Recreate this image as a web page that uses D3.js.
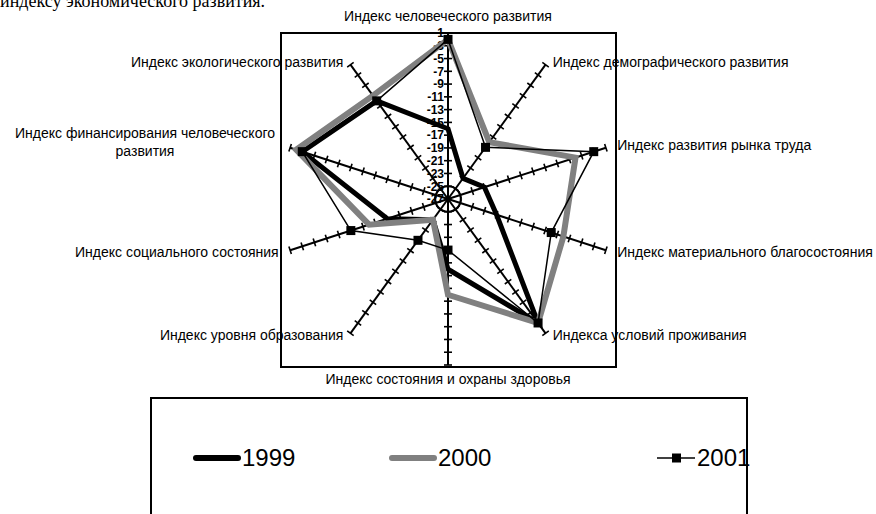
<!DOCTYPE html>
<meta charset="utf-8">
<script src="https://d3js.org/d3.v7.min.js"></script>
<style>
  body { margin: 0; background: #fff; }
  text { font-family: "Liberation Sans", Arial, sans-serif; }
</style>
<body>
<script>

// chart data (values are negative ranks, -27 = worst, -1 = best)
var categories = [
    "Индекс человеческого развития",
    "Индекс демографического развития",
    "Индекс развития рынка труда",
    "Индекс материального благосостояния",
    "Индекса условий проживания",
    "Индекс состояния и охраны здоровья",
    "Индекс уровня образования",
    "Индекс социального состояния",
    "Индекс финансирования человеческого\nразвития",
    "Индекс  экологического развития"
];
var years = ["1999", "2000", "2001"];
var values1999 = [-16, -23, -21, -19, -3, -16, -23, -17, -3, -8];
var values2000 = [-2, -16, -6, -8, -3, -12, -23, -14, -2, -7];
var values2001 = [-2, -17, -3, -10, -3, -19, -19, -11, -3, -8];
var tickValues = [-27, -25, -23, -21, -19, -17, -15, -13, -11, -9, -7, -5, -3, -1];

var width = 876,
    height = 514;

var cx = 448, cy = 199, R = 166;

var svg = d3.select("body").append("svg")
    .attr("width", width)
    .attr("height", height);

// clipped line of the document text above the chart
svg.append("text")
    .attr("x", 0)
    .attr("y", 7)
    .style("font-family", "'Liberation Serif', 'Times New Roman', serif")
    .style("font-size", "18px")
    .text("индексу экономического развития.");

var r = d3.scaleLinear().domain([-27, -1]).range([0, R]);
var angle = d3.scaleLinear().domain([0, categories.length]).range([0, 2 * Math.PI]);

function px(i, v) { return cx + r(v) * Math.sin(angle(i)); }
function py(i, v) { return cy - r(v) * Math.cos(angle(i)); }

// plot area border
svg.append("rect")
    .attr("x", 281)
    .attr("y", 33)
    .attr("width", 335)
    .attr("height", 334)
    .style("fill", "none")
    .style("stroke", "#000")
    .style("stroke-width", 2);

var axes = svg.append("g").attr("class", "axes");

// spokes
axes.selectAll("line.spoke")
    .data(categories)
    .enter().append("line")
    .attr("class", "spoke")
    .attr("x1", cx).attr("y1", cy)
    .attr("x2", function(d, i) { return px(i, -1); })
    .attr("y2", function(d, i) { return py(i, -1); })
    .style("stroke", "#000")
    .style("stroke-width", 2);

// tick marks crossing every spoke
var tickData = [];
categories.forEach(function(c, i) {
    tickValues.slice(1).forEach(function(t) { tickData.push({ i: i, v: t }); });
});
axes.selectAll("line.tick")
    .data(tickData)
    .enter().append("line")
    .attr("class", "tick")
    .each(function(d) {
        var a = angle(d.i), x = px(d.i, d.v), y = py(d.i, d.v);
        var ox = 4 * Math.cos(a), oy = 4 * Math.sin(a);
        d3.select(this)
            .attr("x1", x - ox).attr("y1", y - oy)
            .attr("x2", x + ox).attr("y2", y + oy);
    })
    .style("stroke", "#000")
    .style("stroke-width", 1.6);

axes.append("circle")
    .attr("cx", cx).attr("cy", cy)
    .attr("r", r(-25))
    .style("fill", "none")
    .style("stroke", "#000")
    .style("stroke-width", 2);

// value labels on the top spoke
axes.selectAll("text.val")
    .data(tickValues)
    .enter().append("text")
    .attr("class", "val")
    .attr("x", cx - 4)
    .attr("y", function(d) { return cy - r(d); })
    .attr("dy", "0.36em")
    .attr("text-anchor", "end")
    .style("font-size", "12px")
    .style("font-weight", "bold")
    .text(function(d) { return d; });

// category labels
var labels = svg.append("g").attr("class", "labels")
    .selectAll("text")
    .data(categories)
    .enter().append("text")
    .style("font-size", "14px")
    .each(function(d, i) {
        var a = angle(i), s = Math.sin(a);
        var x, y, anchor;
        if (Math.abs(s) < 0.01) {
            x = cx;
            y = Math.cos(a) > 0 ? cy - R - 17 : cy + R + 14;
            anchor = "middle";
        } else {
            x = cx + (R + 12) * s;
            y = py(i, -1) + (Math.cos(a) > 0 ? -3 : 2);
            anchor = s > 0 ? "start" : "end";
        }
        var lines = d.split("\n");
        var t = d3.select(this)
            .attr("text-anchor", lines.length > 1 ? "middle" : anchor);
        if (lines.length > 1) {
            t.selectAll("tspan")
                .data(lines)
                .enter().append("tspan")
                .attr("x", 145)
                .attr("y", function(l, k) { return y - 12 + k * 18; })
                .attr("dy", "0.35em")
                .text(function(l) { return l; });
        } else {
            t.attr("x", x).attr("y", y).attr("dy", "0.35em").text(d);
        }
    });

// series
var radial = d3.lineRadial()
    .angle(function(d, i) { return angle(i); })
    .radius(function(d) { return r(d); })
    .curve(d3.curveLinearClosed);

var series = [
    { name: years[0], values: values1999, color: "#000", width: 5 },
    { name: years[1], values: values2000, color: "#808080", width: 6 },
    { name: years[2], values: values2001, color: "#000", width: 1.5 }
];

var plot = svg.append("g").attr("transform", "translate(" + cx + "," + cy + ")");

plot.selectAll("path.series")
    .data(series)
    .enter().append("path")
    .attr("class", "series")
    .attr("d", function(d) { return radial(d.values); })
    .style("fill", "none")
    .style("stroke", function(d) { return d.color; })
    .style("stroke-width", function(d) { return d.width; })
    .style("stroke-linejoin", "miter");

svg.selectAll("rect.marker")
    .data(values2001)
    .enter().append("rect")
    .attr("class", "marker")
    .attr("x", function(d, i) { return px(i, d) - 4.5; })
    .attr("y", function(d, i) { return py(i, d) - 4.5; })
    .attr("width", 9)
    .attr("height", 9)
    .style("fill", "#000");

// legend
svg.append("rect")
    .attr("x", 151)
    .attr("y", 398)
    .attr("width", 596)
    .attr("height", 140)
    .style("fill", "none")
    .style("stroke", "#000")
    .style("stroke-width", 2);

var legendX = [193, 389, 657];
var legend = svg.selectAll("g.legend")
    .data(series)
    .enter().append("g")
    .attr("class", "legend")
    .attr("transform", function(d, i) { return "translate(" + legendX[i] + ",458)"; });

legend.append("line")
    .attr("x1", function(d, i) { return i < 2 ? 3 : 0; })
    .attr("x2", function(d, i) { return i < 2 ? 45 : 38; })
    .style("stroke", function(d) { return d.color; })
    .style("stroke-width", function(d, i) { return i < 2 ? 6 : 1.5; })
    .style("stroke-linecap", function(d, i) { return i < 2 ? "round" : "butt"; });

legend.filter(function(d, i) { return i === 2; })
    .append("rect")
    .attr("x", 15).attr("y", -4.5)
    .attr("width", 9).attr("height", 9)
    .style("fill", "#000");

legend.append("text")
    .attr("x", function(d, i) { return i < 2 ? 49 : 40; })
    .attr("dy", "0.35em")
    .style("font-size", "24px")
    .text(function(d) { return d.name; });

</script>
</body>
